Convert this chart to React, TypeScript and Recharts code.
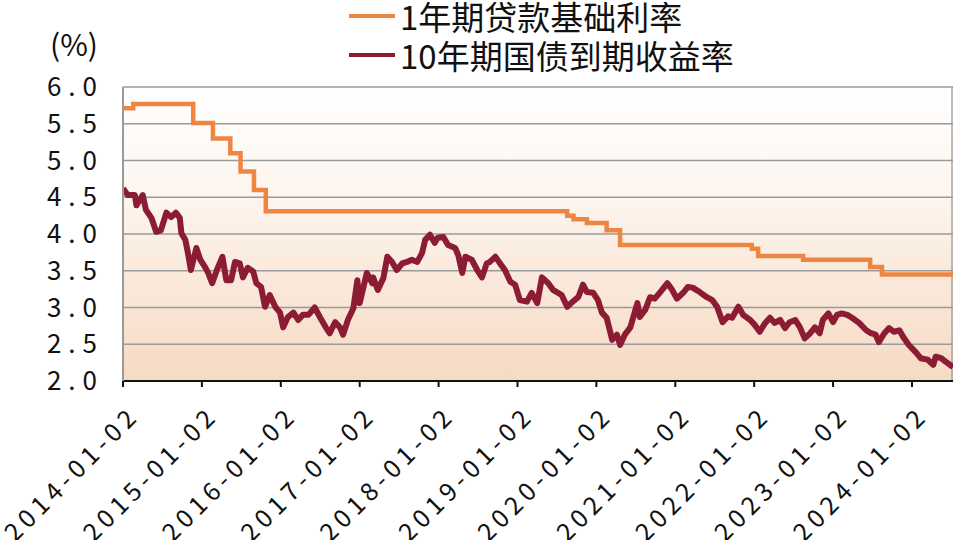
import React from 'react';
import { LineChart, Line, XAxis, YAxis, CartesianGrid, Legend } from 'recharts';

// x values are years elapsed since 2014-01-02
const tickYears = [2014, 2015, 2016, 2017, 2018, 2019, 2020, 2021, 2022, 2023, 2024];
const xTicks = [0, 1, 2, 3, 4, 5, 6, 7, 8, 9, 10];
const yTicks = [2.0, 2.5, 3.0, 3.5, 4.0, 4.5, 5.0, 5.5, 6.0];

const lprName = '1年期贷款基础利率';
const bondName = '10年期国债到期收益率';
const legendOrder = [lprName, bondName];

const lprT = [0, 0.13, 0.89, 1.14, 1.36, 1.49, 1.66, 1.81, 5.63, 5.71, 5.88, 6.13, 6.3, 7.97, 8.05, 8.62, 9.47, 9.62, 10.52];
const lprV = [5.71, 5.77, 5.51, 5.3, 5.1, 4.85, 4.6, 4.31, 4.25, 4.2, 4.15, 4.05, 3.85, 3.8, 3.7, 3.65, 3.55, 3.45, 3.45];

const bondT = [
  0, 0.06, 0.15, 0.17, 0.25, 0.29, 0.36, 0.42, 0.48, 0.55, 0.61, 0.67, 0.72, 0.74, 0.79, 0.82, 0.86, 0.93, 0.98,
  1.04, 1.08, 1.13, 1.19, 1.26, 1.31, 1.37, 1.42, 1.48, 1.52, 1.58, 1.65, 1.69, 1.75, 1.8, 1.86, 1.93, 1.99,
  2.03, 2.09, 2.16, 2.22, 2.28, 2.35, 2.43, 2.5, 2.57, 2.62, 2.69, 2.75, 2.79, 2.85, 2.92, 2.97,
  3.0, 3.09, 3.16, 3.17, 3.23, 3.3, 3.35, 3.41, 3.47, 3.54, 3.6, 3.66, 3.73, 3.79, 3.83, 3.89, 3.95, 3.99,
  4.06, 4.12, 4.21, 4.25, 4.3, 4.34, 4.42, 4.49, 4.55, 4.61, 4.65, 4.72, 4.78, 4.84, 4.91, 4.97,
  5.03, 5.12, 5.18, 5.25, 5.31, 5.39, 5.45, 5.56, 5.63, 5.7, 5.77, 5.83, 5.88, 5.96,
  6.02, 6.07, 6.13, 6.2, 6.26, 6.3, 6.36, 6.43, 6.52, 6.55, 6.62, 6.68, 6.74, 6.81, 6.9, 6.96,
  7.02, 7.1, 7.16, 7.22, 7.31, 7.4, 7.47, 7.53, 7.6, 7.67, 7.72, 7.8, 7.86, 7.95,
  8.01, 8.07, 8.14, 8.2, 8.26, 8.33, 8.39, 8.45, 8.52, 8.58, 8.64, 8.71, 8.77, 8.83, 8.87, 8.94,
  9.0, 9.05, 9.11, 9.18, 9.24, 9.33, 9.42, 9.48, 9.54, 9.58, 9.65, 9.71, 9.77, 9.84, 9.9, 9.96,
  10.05, 10.11, 10.2, 10.27, 10.3, 10.37, 10.43, 10.52,
];
const bondV = [
  4.62, 4.53, 4.53, 4.39, 4.53, 4.33, 4.22, 4.03, 4.05, 4.29, 4.23, 4.29, 4.22, 4.01, 3.92, 3.76, 3.51, 3.81, 3.65,
  3.55, 3.47, 3.33, 3.51, 3.69, 3.37, 3.37, 3.62, 3.6, 3.41, 3.54, 3.49, 3.33, 3.28, 3.01, 3.17, 3.01, 2.93,
  2.73, 2.87, 2.93, 2.83, 2.9, 2.9, 3.0, 2.86, 2.73, 2.65, 2.8, 2.73, 2.63, 2.83, 2.99, 3.37,
  3.06, 3.47, 3.33, 3.41, 3.24, 3.4, 3.69, 3.62, 3.51, 3.6, 3.62, 3.65, 3.62, 3.74, 3.92, 3.99, 3.88, 3.95,
  3.96, 3.85, 3.81, 3.71, 3.47, 3.69, 3.65, 3.51, 3.41, 3.6, 3.62, 3.69, 3.6, 3.51, 3.35, 3.31,
  3.1, 3.08, 3.2, 3.06, 3.41, 3.33, 3.24, 3.17, 3.01, 3.08, 3.14, 3.31, 3.21, 3.2,
  3.1, 2.93, 2.86, 2.56, 2.63, 2.49, 2.63, 2.73, 3.06, 2.87, 2.97, 3.14, 3.12, 3.21, 3.33, 3.24,
  3.12, 3.2, 3.28, 3.27, 3.21, 3.14, 3.1, 3.01, 2.8, 2.88, 2.86, 3.01, 2.9, 2.83,
  2.76, 2.67, 2.79, 2.86, 2.79, 2.83, 2.72, 2.8, 2.83, 2.73, 2.58, 2.65, 2.73, 2.65, 2.83, 2.92,
  2.8, 2.9, 2.92, 2.9, 2.86, 2.79, 2.69, 2.65, 2.63, 2.53, 2.65, 2.72, 2.67, 2.69, 2.58, 2.49,
  2.39, 2.31, 2.29, 2.22, 2.33, 2.31, 2.26, 2.19,
];

const lprData = lprT.map((t, i) => ({ t, v: lprV[i] }));
const bondData = bondT.map((t, i) => ({ t, v: bondV[i] }));

const ORANGE = '#EE8641';
const MAROON = '#8C1C34';
const FONT = '"Noto Sans CJK SC", "Noto Sans", sans-serif';

const XTick = (props: any) => {
  const { x, y, payload } = props;
  const label = `${tickYears[xTicks.indexOf(payload.value)]}-01-02`;
  return (
    <g transform={`translate(${x + 18},${y + 28})`}>
      <text textAnchor="end" transform="rotate(-45)" fontSize={25} letterSpacing={5} fill="#111" fontFamily={FONT}>
        {label}
      </text>
    </g>
  );
};

const YTick = (props: any) => {
  const { x, y, payload } = props;
  return (
    <text x={x - 19} y={y} dy={9} textAnchor="end" fontSize={26} letterSpacing={7} fill="#111" fontFamily={FONT}>
      {Number(payload.value).toFixed(1)}
    </text>
  );
};

const LegendContent = (props: any) => {
  const items = [...(props.payload || [])].sort(
    (a: any, b: any) => legendOrder.indexOf(a.value) - legendOrder.indexOf(b.value)
  );
  return (
    <div style={{ fontFamily: FONT }}>
      {items.map((it: any, i: number) => (
        <div key={i} style={{ display: 'flex', alignItems: 'center', height: 39, whiteSpace: 'nowrap' }}>
          <span style={{ display: 'inline-block', width: 46, height: 4, background: it.color, marginRight: 5 }} />
          <span style={{ fontSize: 33, lineHeight: '34px', color: '#111' }}>{it.value}</span>
        </div>
      ))}
    </div>
  );
};

const UnitLabel = (props: any) => {
  const vb = props.viewBox || { x: 0, y: 87 };
  return (
    <text x={vb.x + 74} y={vb.y - 31} textAnchor="middle" fontSize={30} fill="#111" fontFamily={FONT}>
      (%)
    </text>
  );
};

export default function App() {
  return (
    <div style={{ position: 'absolute', left: 0, top: 0, width: 956, height: 540, background: '#fff' }}>
      <LineChart width={956} height={540} margin={{ top: 87, right: 3, bottom: 0, left: 0 }}>
        <defs>
          <linearGradient id="bgGrad" x1="0" y1="0" x2="0" y2="1">
            <stop offset="0%" stopColor="#FFFFFF" />
            <stop offset="35%" stopColor="#FDF6F0" />
            <stop offset="100%" stopColor="#F6DAC3" />
          </linearGradient>
        </defs>
        <CartesianGrid
          fill="url(#bgGrad)"
          stroke="#9a9a9a"
          strokeWidth={1.3}
          vertical={true}
          verticalCoordinatesGenerator={({ offset }: any) => [offset.left + offset.width - 1]}
        />
        <XAxis
          type="number"
          dataKey="t"
          domain={[0, 10.52]}
          ticks={xTicks}
          interval={0}
          allowDataOverflow
          height={159}
          axisLine={{ stroke: '#111', strokeWidth: 2 }}
          tickLine={{ stroke: '#111', strokeWidth: 2 }}
          tickSize={6}
          tick={<XTick />}
        />
        <YAxis
          type="number"
          domain={[2, 6]}
          ticks={yTicks}
          interval={0}
          width={123}
          axisLine={{ stroke: '#9a9a9a', strokeWidth: 2 }}
          tickLine={false}
          tickSize={0}
          tickMargin={0}
          tick={<YTick />}
          label={<UnitLabel />}
        />
        <Legend
          layout="vertical"
          align="center"
          verticalAlign="middle"
          content={<LegendContent />}
          wrapperStyle={{ position: 'absolute', left: 349, top: -4, width: 440, height: 80 }}
        />
        <Line
          data={lprData}
          dataKey="v"
          name={lprName}
          type="stepAfter"
          stroke={ORANGE}
          strokeWidth={4.5}
          dot={false}
          isAnimationActive={false}
        />
        <Line
          data={bondData}
          dataKey="v"
          name={bondName}
          type="linear"
          stroke={MAROON}
          strokeWidth={6}
          strokeLinejoin="round"
          dot={false}
          isAnimationActive={false}
        />
      </LineChart>
    </div>
  );
}
